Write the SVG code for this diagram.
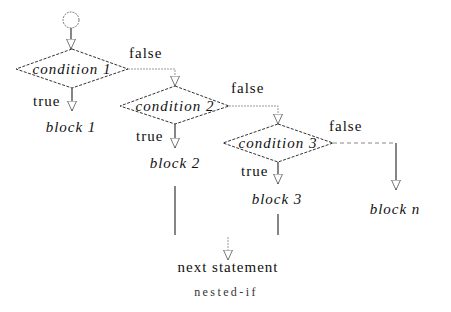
<svg xmlns="http://www.w3.org/2000/svg" width="451" height="312" viewBox="0 0 451 312">
  <style>
    .dia { fill: #fff; stroke: #333; stroke-width: 1; stroke-dasharray: 3 1.5; }
    .lbl { font-family: "Liberation Serif", "Times New Roman", serif; font-size: 15px; fill: #111; letter-spacing: 1px; }
    .it { font-style: italic; }
    .mid { text-anchor: middle; }
    .solid { fill: none; stroke: #444; stroke-width: 1.3; marker-end: url(#arrow); }
    .faint { fill: none; stroke: #999; stroke-width: 1; stroke-dasharray: 2 1; marker-end: url(#arrow); }
    .dash { fill: none; stroke: #888; stroke-width: 1; stroke-dasharray: 4 3; }
    .plain { fill: none; stroke: #444; stroke-width: 1.3; }
  </style>
  <defs>
    <marker id="arrow" viewBox="0 0 10 10" refX="10" refY="5" markerWidth="10" markerHeight="10" markerUnits="userSpaceOnUse" orient="auto">
      <path d="M0,0.5 L10,5 L0,9.5 z" fill="#fff" stroke="#555" stroke-width="0.8"/>
    </marker>
  </defs>

  <rect width="451" height="312" fill="#fff"/>

  <!-- connectors and their branch labels -->
  <g id="connectors">
    <path class="solid" d="M71,28 V49"/>
    <path class="solid" d="M72,88 V111"/>
    <path class="faint" d="M128,69 H175 V86"/>
    <path class="solid" d="M175,124 V148"/>
    <path class="faint" d="M229,106 H278 V124"/>
    <path class="solid" d="M278,162 V184"/>
    <path class="dash" d="M333,143 H396"/>
    <path class="solid" d="M396,143 V190"/>
    <path class="plain" d="M175,186 V235"/>
    <path class="plain" d="M278,214 V235"/>
    <path class="faint" d="M228,237 V260"/>
    <text class="lbl" x="129" y="58">false</text>
    <text class="lbl" x="33" y="106">true</text>
    <text class="lbl" x="231" y="93">false</text>
    <text class="lbl" x="136" y="141">true</text>
    <text class="lbl" x="329" y="131">false</text>
    <text class="lbl" x="241" y="176">true</text>
  </g>

  <g id="start">
    <circle cx="71" cy="20" r="8" fill="#fff" stroke="#777" stroke-width="1" stroke-dasharray="2 1"/>
  </g>

  <g id="cond1">
    <polygon class="dia" points="72,49 128,69 72,88 16,69"/>
    <text class="lbl it mid" x="72" y="74">condition 1</text>
  </g>
  <g id="block1">
    <text class="lbl it mid" x="71" y="132">block 1</text>
  </g>

  <g id="cond2">
    <polygon class="dia" points="175,86 229,106 175,124 120,106"/>
    <text class="lbl it mid" x="175" y="111">condition 2</text>
  </g>
  <g id="block2">
    <text class="lbl it mid" x="175" y="168">block 2</text>
  </g>

  <g id="cond3">
    <polygon class="dia" points="278,124 333,143 278,162 223,143"/>
    <text class="lbl it mid" x="278" y="148">condition 3</text>
  </g>
  <g id="block3">
    <text class="lbl it mid" x="277" y="204">block 3</text>
  </g>

  <g id="blockn">
    <text class="lbl it mid" x="395" y="214">block n</text>
  </g>

  <g id="next">
    <text class="lbl mid" x="228" y="272">next statement</text>
  </g>

  <g id="caption">
    <text class="lbl mid" x="226" y="296" style="font-size:12px; letter-spacing:2.4px; fill:#333">nested-if</text>
  </g>
</svg>
